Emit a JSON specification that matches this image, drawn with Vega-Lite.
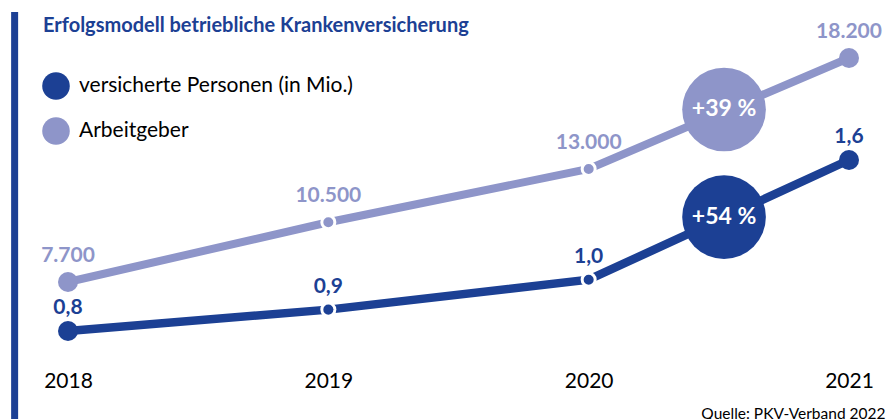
{
  "$schema": "https://vega.github.io/schema/vega-lite/v6.json",
  "width": 888,
  "height": 419,
  "autosize": {"type": "none"},
  "padding": 0,
  "background": "white",
  "config": {
    "view": {"stroke": null},
    "font": "Lato",
    "legend": {"padding": 0}
  },
  "title": {
    "text": "Erfolgsmodell betriebliche Krankenversicherung",
    "anchor": "start",
    "frame": "group",
    "fontSize": 20,
    "fontWeight": "bold",
    "color": "#1c4094",
    "font": "Lato",
    "baseline": "alphabetic",
    "offset": 0,
    "dx": 43,
    "dy": 52
  },
  "datasets": {
    "personen": [
      {"year": 2018, "value": 0.8, "label": "0,8"},
      {"year": 2019, "value": 0.9, "label": "0,9"},
      {"year": 2020, "value": 1.04, "label": "1,0"},
      {"year": 2021, "value": 1.6, "label": "1,6"}
    ],
    "arbeitgeber": [
      {"year": 2018, "value": 7700, "label": "7.700"},
      {"year": 2019, "value": 10500, "label": "10.500"},
      {"year": 2020, "value": 13000, "label": "13.000"},
      {"year": 2021, "value": 18200, "label": "18.200"}
    ],
    "badge_personen": [{"year": 2020.52, "value": 1.333, "label": "+54 %"}],
    "badge_arbeitgeber": [{"year": 2020.52, "value": 15786, "label": "+39 %"}]
  },
  "resolve": {"scale": {"y": "independent"}},
  "layer": [
    {
      "data": {"values": [{}]},
      "mark": {"type": "rule", "color": "#1c4094", "strokeWidth": 7},
      "encoding": {
        "x": {"datum": 2017.795, "type": "quantitative", "scale": {"domain": [2018, 2021], "range": [68, 849]}},
        "y": {"datum": 0, "type": "quantitative", "scale": {"domain": [0, 1], "range": [419, 12]}, "axis": null},
        "y2": {"datum": 1}
      }
    },
    {
      "data": {"name": "arbeitgeber"},
      "encoding": {
        "x": {
          "field": "year", "type": "quantitative",
          "scale": {"domain": [2018, 2021], "range": [68, 849]},
          "axis": {
            "orient": "bottom", "offset": -49, "domain": false, "ticks": false, "tickSize": 0, "grid": false,
            "labelPadding": 0, "labelFontSize": 21, "labelColor": "black", "labelFont": "Lato",
            "values": [2018, 2019, 2020, 2021], "format": "d", "labelFlush": false, "labelOverlap": false,
            "title": "Quelle: PKV-Verband 2022", "titleFontSize": 15.5, "titleFontWeight": "normal",
            "titleColor": "black", "titleFont": "Lato", "titleX": 885, "titleY": 36,
            "titleAlign": "right", "titleBaseline": "top"
          }
        },
        "y": {"field": "value", "type": "quantitative", "scale": {"domain": [7700, 18200], "range": [282, 58]}, "axis": null}
      },
      "layer": [
        {"mark": {"type": "line", "color": "#8e95c9", "strokeWidth": 8}},
        {
          "transform": [{"filter": "datum.year == 2019 || datum.year == 2020"}],
          "mark": {"type": "point", "filled": true, "opacity": 1, "color": "#8e95c9", "stroke": "white", "strokeWidth": 3, "size": 170}
        },
        {
          "transform": [{"filter": "datum.year == 2018 || datum.year == 2021"}],
          "mark": {"type": "point", "filled": true, "opacity": 1, "size": 400},
          "encoding": {
            "color": {
              "datum": "Arbeitgeber",
              "scale": {"domain": ["versicherte Personen (in Mio.)", "Arbeitgeber"], "range": ["#1c4094", "#8e95c9"]},
              "legend": {
                "title": null, "orient": "none", "legendX": 42, "legendY": 72,
                "symbolType": "circle", "symbolSize": 760, "symbolOpacity": 1, "symbolStrokeWidth": 0,
                "labelFontSize": 21, "labelColor": "black", "labelFont": "Lato", "labelLimit": 500,
                "rowPadding": 17, "labelOffset": 9
              }
            }
          }
        },
        {
          "mark": {"type": "text", "color": "#8e95c9", "fontWeight": "bold", "fontSize": 21, "dy": -26, "baseline": "middle", "align": "center"},
          "encoding": {"text": {"field": "label"}}
        },
        {
          "data": {"name": "badge_arbeitgeber"},
          "layer": [
            {"mark": {"type": "point", "filled": true, "opacity": 1, "color": "#8e95c9", "size": 7000}},
            {
              "mark": {"type": "text", "color": "white", "fontWeight": "bold", "fontSize": 23, "baseline": "middle", "align": "center"},
              "encoding": {"text": {"field": "label"}}
            }
          ]
        }
      ]
    },
    {
      "data": {"name": "personen"},
      "encoding": {
        "x": {"field": "year", "type": "quantitative", "scale": {"domain": [2018, 2021], "range": [68, 849]}},
        "y": {"field": "value", "type": "quantitative", "scale": {"domain": [0.8, 1.6], "range": [331, 160]}, "axis": null}
      },
      "layer": [
        {"mark": {"type": "line", "color": "#1c4094", "strokeWidth": 8.5}},
        {
          "transform": [{"filter": "datum.year == 2019 || datum.year == 2020"}],
          "mark": {"type": "point", "filled": true, "opacity": 1, "color": "#1c4094", "stroke": "white", "strokeWidth": 3, "size": 170}
        },
        {
          "transform": [{"filter": "datum.year == 2018 || datum.year == 2021"}],
          "mark": {"type": "point", "filled": true, "opacity": 1, "size": 400},
          "encoding": {"color": {"datum": "versicherte Personen (in Mio.)"}}
        },
        {
          "mark": {"type": "text", "color": "#1c4094", "fontWeight": "bold", "fontSize": 21, "dy": -23, "baseline": "middle", "align": "center"},
          "encoding": {"text": {"field": "label"}}
        },
        {
          "data": {"name": "badge_personen"},
          "layer": [
            {"mark": {"type": "point", "filled": true, "opacity": 1, "color": "#1c4094", "size": 7000}},
            {
              "mark": {"type": "text", "color": "white", "fontWeight": "bold", "fontSize": 23, "baseline": "middle", "align": "center"},
              "encoding": {"text": {"field": "label"}}
            }
          ]
        }
      ]
    }
  ]
}
